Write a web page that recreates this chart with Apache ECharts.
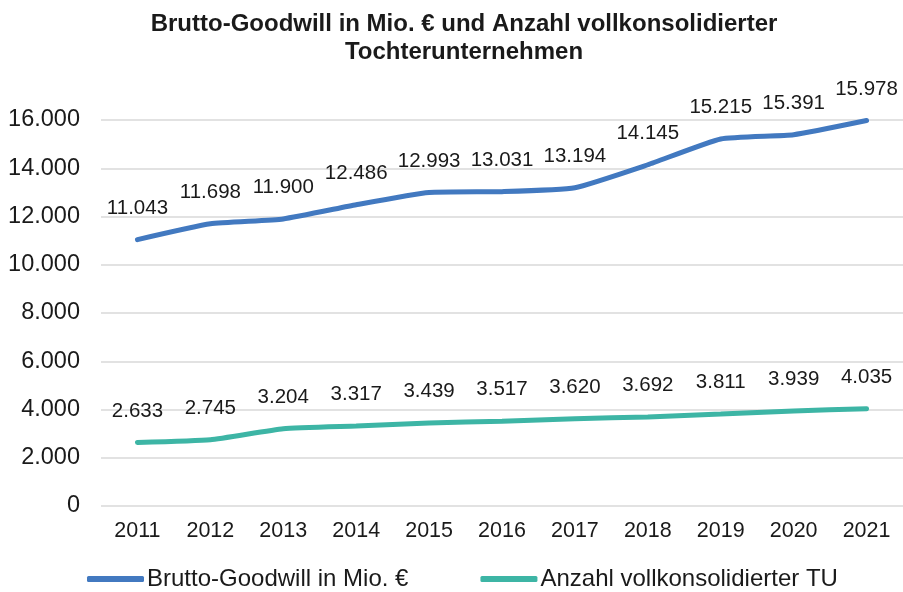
<!DOCTYPE html>
<html><head><meta charset="utf-8">
<script src="https://cdn.jsdelivr.net/npm/echarts@6/dist/echarts.min.js"></script>
<style>html,body{margin:0;padding:0;background:#fff}#c{width:903px;height:592px}</style>
</head><body><div id="c"></div>
<script>
var years = ['2011','2012','2013','2014','2015','2016','2017','2018','2019','2020','2021'];
var goodwill = [11043,11698,11900,12486,12993,13031,13194,14145,15215,15391,15978];
var tochter = [2633,2745,3204,3317,3439,3517,3620,3692,3811,3939,4035];
var seriesNames = ['Brutto-Goodwill in Mio. €','Anzahl vollkonsolidierter TU'];
var titleText = 'Brutto-Goodwill in Mio. € und Anzahl vollkonsolidierter\nTochterunternehmen';

function fmt(v){return String(Math.round(v)).replace(/\B(?=(\d{3})+(?!\d))/g,'.');}
var font = 'Liberation Sans, Arial, sans-serif';
var txt = '#1a1a1a';
var chart = echarts.init(document.getElementById('c'));
chart.setOption({
  animation:false,
  title:{text:titleText,left:459,textAlign:'center',top:5,
    textStyle:{fontFamily:font,fontSize:24,fontWeight:'bold',color:txt,lineHeight:28}},
  grid:{left:101,right:-6,top:120,bottom:86},
  legend:{bottom:-4,left:82,itemWidth:57,itemHeight:6,itemGap:72,icon:'roundRect',
    textStyle:{fontFamily:font,fontSize:24,color:txt,padding:[0,0,0,-2]},data:seriesNames},
  xAxis:{type:'category',data:years,boundaryGap:true,
    axisLine:{show:false},axisTick:{show:false},
    axisLabel:{fontFamily:font,fontSize:21.5,color:txt,margin:14}},
  yAxis:{type:'value',min:0,max:16000,interval:2000,
    axisLine:{show:false},axisTick:{show:false},
    splitLine:{lineStyle:{color:'#d9d9d9',width:1.5}},
    axisLabel:{fontFamily:font,fontSize:23.5,color:txt,margin:21,formatter:fmt}},
  series:[
    {name:seriesNames[0],type:'line',data:goodwill,symbol:'circle',symbolSize:2,showSymbol:true,smooth:0.15,
      lineStyle:{width:5,color:'#4279c0',cap:'round'},itemStyle:{color:'#4279c0'},
      label:{show:true,position:'top',distance:20,fontFamily:font,fontSize:20.5,color:txt,
        formatter:function(p){return fmt(p.value);}}},
    {name:seriesNames[1],type:'line',data:tochter,symbol:'circle',symbolSize:2,showSymbol:true,smooth:0.15,
      lineStyle:{width:5,color:'#3db5a5',cap:'round'},itemStyle:{color:'#3db5a5'},
      label:{show:true,position:'top',distance:20,fontFamily:font,fontSize:20.5,color:txt,
        formatter:function(p){return fmt(p.value);}}}
  ]
});
</script></body></html>
